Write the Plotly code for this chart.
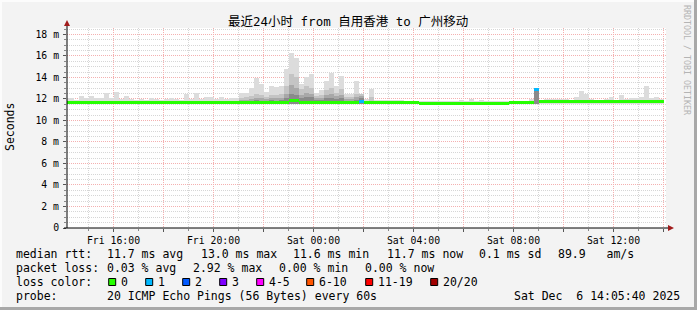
import plotly.graph_objects as go

# ---------------- data ----------------
first_bin_start = 14.0      # hours since Fri 00:00
bin_hours = 0.2             # 12-minute consolidation steps

smoke_top = [
    12.10, 12.12, 11.95, 12.28, 12.05, 12.28, 12.05, 12.05, 12.59, 12.10,
    12.68, 12.00, 12.31, 12.00, 11.95, 12.00, 11.90, 12.05, 12.00, 11.95,
    12.00, 12.12, 12.00, 11.90, 12.43, 12.00, 12.59, 12.00, 12.22, 12.22,
    12.00, 12.22, 12.00, 12.05, 12.12, 12.53, 12.59, 13.00, 13.98, 13.36,
    12.68, 13.21, 13.09, 13.21, 14.79, 16.28, 15.78, 13.40, 14.07, 14.33,
    12.59, 12.84, 13.67, 14.45, 13.21, 14.14, 12.47, 12.47, 13.67, 12.47,
    12.00, 12.93, 11.90, 11.88, 11.95, 11.95, 11.95, 11.90, 11.85, 11.85,
    11.85, 11.85, 11.80, 11.80, 11.80, 11.80, 11.80, 11.85, 11.85, 11.90,
    11.85, 12.00, 11.85, 11.92, 11.80, 11.85, 11.80, 11.80, 11.80, 11.80,
    11.85, 11.85, 11.85, 11.98, 13.05, 11.90, 12.00, 12.00, 12.00, 12.00,
    12.00, 11.95, 12.22, 12.74, 12.47, 12.00, 11.95, 11.95, 12.00, 12.22,
    11.95, 12.37, 12.00, 12.05, 12.12, 12.22, 13.21, 12.12, 12.22, 12.00,
]
smoke_floor = 11.50

smoke_l2 = ([None] * 35 + [
    12.10, 12.15, 12.30, 12.50, 12.40, 12.20, 12.40, 12.35, 12.45, 13.20,
    14.30, 14.00, 12.90, 13.20, 13.00, 12.30, 12.40, 12.80, 13.00, 12.60,
    12.90, 12.20, 12.20, 12.50, 12.47, None, 12.20]
    + [None] * 32 + [13.00] + [None] * 25)
smoke_l3 = ([None] * 35 + [
    11.95, 11.95, 12.00, 12.10, 12.05, 12.00, 12.10, 12.05, 12.10, 12.50,
    13.30, 13.00, 12.40, 12.60, 12.50, 12.10, 12.10, 12.35, 12.50, 12.30,
    12.40, 12.00, 12.00, 12.20, 12.30, None, None]
    + [None] * 32 + [13.00] + [None] * 25)
smoke_l4 = ([None] * 35 + [
    None, None, None, 11.95, None, None, 11.95, None, 11.95, 12.10,
    12.50, 12.40, 12.10, 12.20, 12.15, 11.95, 11.95, 12.05, 12.10, 12.00,
    12.10, None, None, 11.95, 12.10, None, None]
    + [None] * 32 + [13.00] + [None] * 25)

median_rtt = ([11.68] * 45 + [11.85, 11.82, 11.64] + [11.70] * 8 +
              [11.64] * 3 + [11.80] + [11.68] * 11 + [11.62] * 18 +
              [11.66] * 5 + [12.92] + [11.72] * 25)
lost_pings = [0] * 59 + [1] + [0] * 34 + [1] + [0] * 25

loss_labels = ["0", "1", "2", "3", "4-5", "6-10", "11-19", "20/20"]
loss_colors = ["#26FF00", "#00B8FF", "#0059FF", "#7E00FF",
               "#FF00FF", "#FF5500", "#FF0000", "#A10000"]

x_tick_vals = [16, 18, 20, 22, 24, 26, 28, 30, 32, 34, 36, 38]
x_tick_text = ["Fri 16:00", "", "Fri 20:00", "", "Sat 00:00", "",
               "Sat 04:00", "", "Sat 08:00", "", "Sat 12:00", ""]
y_tick_vals = [0, 2, 4, 6, 8, 10, 12, 14, 16, 18]
y_tick_text = ["0", "2 m", "4 m", "6 m", "8 m", "10 m", "12 m", "14 m", "16 m", "18 m"]

title_text = "最近24小时 from 自用香港 to 广州移动"
stats_rtt = [("median rtt:", 16), ("11.7 ms avg", 107.3), ("13.0 ms max", 200.7),
             ("11.6 ms min", 293.3), ("11.7 ms now", 386.7), ("0.1 ms sd", 479.3),
             ("89.9   am/s", 558.3)]
stats_loss = [("packet loss:", 16), ("0.03 % avg", 107.3), ("2.92 % max", 193.3),
              ("0.00 % min", 279.3), ("0.00 % now", 365.0)]
probe_text = [("probe:", 16), ("20 ICMP Echo Pings (56 Bytes) every 60s", 107.3)]
stamp_text = "Sat Dec  6 14:05:40 2025"

# ---------------- figure ----------------
W, H = 697, 310
L, R, T, B = 67, 31, 28, 82
PW, PH = W - L - R, H - T - B
MONO = "DejaVu Sans Mono"


def px(x):
    return (x - L) / PW


def py(y):
    return (H - B - y) / PH


n = len(smoke_top)
x_mid = [first_bin_start + bin_hours * (i + 0.5) for i in range(n)]

fig = go.Figure()


def smoke_layer(vals, color):
    xs, hs, bs = [], [], []
    for xm, v in zip(x_mid, vals):
        if v is None or v <= smoke_floor:
            continue
        xs.append(xm)
        hs.append(v - smoke_floor)
        bs.append(smoke_floor)
    fig.add_trace(go.Bar(x=xs, y=hs, base=bs, width=bin_hours,
                         marker=dict(color=color, line=dict(width=0)),
                         hoverinfo="skip", showlegend=False))


smoke_layer(smoke_top, "#DCDCDC")
smoke_layer(smoke_l2, "#C4C4C4")
smoke_layer(smoke_l3, "#A8A8A8")
smoke_layer(smoke_l4, "#8A8A8A")

band = 0.28


def loss_color(k):
    if k <= 3:
        return loss_colors[k]
    if k <= 5:
        return loss_colors[4]
    if k <= 10:
        return loss_colors[5]
    if k <= 19:
        return loss_colors[6]
    return loss_colors[7]


fig.add_trace(go.Bar(x=x_mid, y=[band] * n, base=[m - band / 2 for m in median_rtt],
                     width=bin_hours,
                     marker=dict(color=[loss_color(k) for k in lost_pings], line=dict(width=0)),
                     hoverinfo="skip", showlegend=False))

fig.update_layout(
    width=W, height=H,
    margin=dict(l=L, r=R, t=T, b=B),
    paper_bgcolor="#F3F3F3", plot_bgcolor="#FFFFFF",
    barmode="overlay", bargap=0, showlegend=False,
    font=dict(family=MONO, size=10, color="#000000"),
)
fig.update_xaxes(
    range=[14.14, 38.10], tickmode="array", tickvals=x_tick_vals, ticktext=x_tick_text,
    showgrid=True, gridcolor="#F4B0B0", griddash="1px,1px", gridwidth=1,
    ticks="outside", ticklen=3, tickcolor="#555555",
    tickfont=dict(family=MONO, size=9.8, color="#000000"),
    minor=dict(dtick=1, tick0=0, showgrid=True, gridcolor="#D6D6D6",
               griddash="1px,1px", ticks="outside", ticklen=2, tickcolor="#888888"),
    zeroline=False, showline=False, fixedrange=True,
)
fig.update_yaxes(
    range=[0, 18.6], tickmode="array", tickvals=y_tick_vals, ticktext=y_tick_text,
    showgrid=True, gridcolor="#F4B0B0", griddash="1px,1px", gridwidth=1,
    ticks="outside", ticklen=3, tickcolor="#555555", ticklabelstandoff=2,
    tickfont=dict(family=MONO, size=9.8, color="#000000"),
    minor=dict(dtick=0.5, tick0=0, showgrid=True, gridcolor="#D6D6D6",
               griddash="1px,1px", ticks="outside", ticklen=2, tickcolor="#888888"),
    zeroline=False, showline=False, fixedrange=True,
)

shapes = []
# axes with arrows
shapes.append(dict(type="line", xref="paper", yref="paper",
                   x0=px(67), x1=px(67), y0=py(228), y1=py(24),
                   line=dict(color="#000000", width=1)))
shapes.append(dict(type="line", xref="paper", yref="paper",
                   x0=px(64), x1=px(669), y0=py(228), y1=py(228),
                   line=dict(color="#000000", width=1)))
shapes.append(dict(type="path", xref="paper", yref="paper",
                   path=f"M {px(64)} {py(26)} L {px(70)} {py(26)} L {px(67)} {py(20)} Z",
                   fillcolor="#A11B1B", line=dict(width=0)))
shapes.append(dict(type="path", xref="paper", yref="paper",
                   path=f"M {px(668)} {py(225)} L {px(668)} {py(231)} L {px(674)} {py(228)} Z",
                   fillcolor="#A11B1B", line=dict(width=0)))
# frame
shapes.append(dict(type="rect", xref="paper", yref="paper",
                   x0=px(0), x1=px(697), y0=py(0), y1=py(2),
                   fillcolor="#FCFCFC", line=dict(width=0)))
shapes.append(dict(type="rect", xref="paper", yref="paper",
                   x0=px(0), x1=px(2), y0=py(0), y1=py(310),
                   fillcolor="#FCFCFC", line=dict(width=0)))
shapes.append(dict(type="rect", xref="paper", yref="paper",
                   x0=px(694), x1=px(697), y0=py(0), y1=py(310),
                   fillcolor="#A8A8A8", line=dict(width=0)))
shapes.append(dict(type="rect", xref="paper", yref="paper",
                   x0=px(0), x1=px(697), y0=py(307), y1=py(310),
                   fillcolor="#A8A8A8", line=dict(width=0)))

annotations = []


def text(s, x, y, size=11.5, anchor="left", color="#000000", angle=0, family=MONO):
    annotations.append(dict(text=s.replace(" ", "\u00a0"), x=px(x), y=py(y),
                            xref="paper", yref="paper", xanchor=anchor, yanchor="middle",
                            showarrow=False, textangle=angle, borderpad=0, borderwidth=0,
                            font=dict(family=family, size=size, color=color)))


text(title_text, 348, 21.5, size=12.5, anchor="center",
     family="DejaVu Sans Mono, Noto Sans CJK SC")
text("Seconds", 10, 127, size=11.5, anchor="center", angle=-90)
text("RRDTOOL / TOBI OETIKER", 687, 60, size=8.3, anchor="center",
     color="#B4B4B4", angle=90)

for s, x in stats_rtt:
    text(s, x, 254)
for s, x in stats_loss:
    text(s, x, 268.3)
text("loss color:", 16, 282.3)
box_left = [108.7, 145.7, 182.7, 219.7, 256.7, 306.7, 365.7, 430.7]
for lab, col, bx in zip(loss_labels, loss_colors, box_left):
    shapes.append(dict(type="rect", xref="paper", yref="paper",
                       x0=px(bx), x1=px(bx + 7), y0=py(278.5), y1=py(285.5),
                       fillcolor=col, line=dict(color="#000000", width=1)))
    text(lab, bx + 11.8, 282.3)
for s, x in probe_text:
    text(s, x, 295.7)
text(stamp_text, 680, 295.7, anchor="right")

fig.update_layout(shapes=shapes, annotations=annotations)
fig.write_html("out.html")
